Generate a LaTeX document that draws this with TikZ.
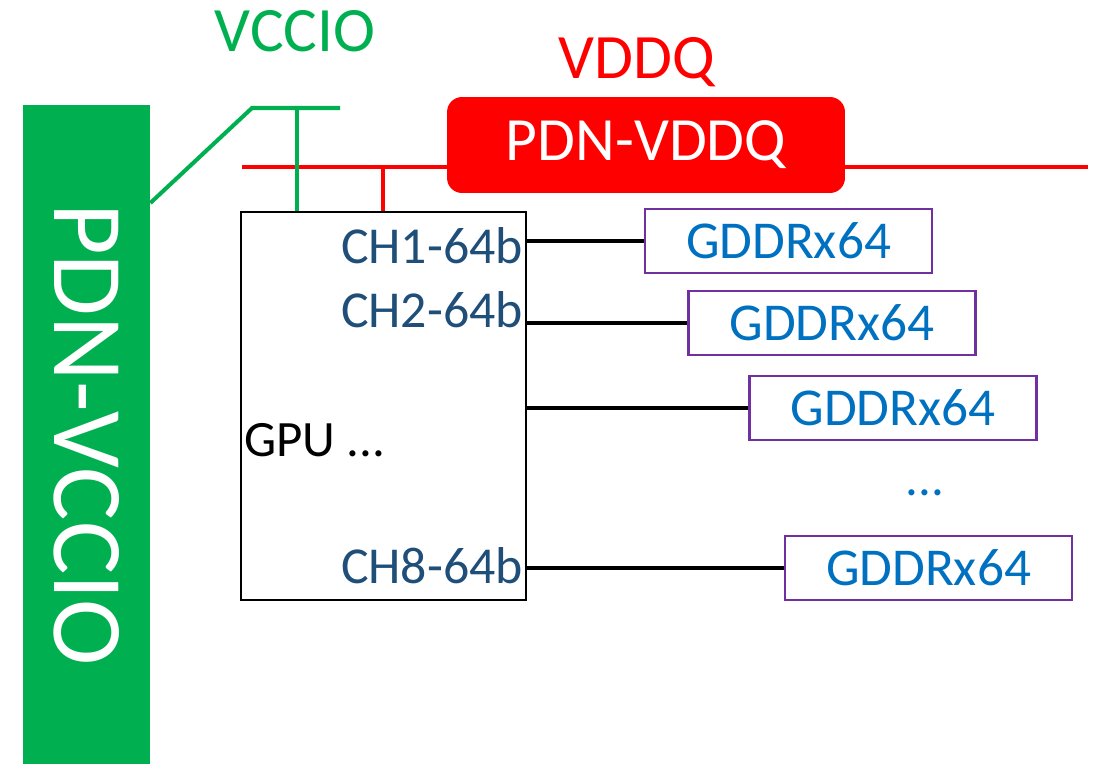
\documentclass[tikz,border=0pt]{standalone}
\usepackage{fontspec}
\setmainfont{Carlito}
\usetikzlibrary{positioning,calc}

\definecolor{vgreen}{HTML}{00B050}
\definecolor{vred}{HTML}{FF0000}
\definecolor{gpurple}{HTML}{7030A0}
\definecolor{gblue}{HTML}{0070C0}
\definecolor{chblue}{HTML}{1F4E79}

\begin{document}
\begin{tikzpicture}[
      x=0.02cm, y=-0.02cm,
      gddr/.style={draw=gpurple,line width=1.4pt,minimum width=5.74cm,minimum height=1.28cm,
        text=gblue,font=\fontsize{30.3}{33}\selectfont},
      chl/.style={anchor=base east,text=chblue,inner sep=1pt,font=\fontsize{29.5}{32}\selectfont},
      bus/.style={line width=2.8pt},
      gw/.style={draw=vgreen,line width=2.3pt},
      rw/.style={draw=vred,line width=2.3pt},
    ]
    \useasboundingbox (0,0) rectangle (1097,764);
    % power rails
    \node[fill=vgreen,minimum width=2.54cm,minimum height=13.18cm,inner sep=0pt] (vccio) at (86.5,434.5) {};
    \node[rotate=-90,text=white,font=\fontsize{57}{60}\selectfont] at (vccio.center) {PDN-VCCIO};
    \node[anchor=base,text=vgreen,font=\fontsize{36}{40}\selectfont] (lvccio) at (295,51) {VCCIO};
    \node[anchor=base,text=vred,font=\fontsize{36}{40}\selectfont] (lvddq) at (637,78) {VDDQ};
    \coordinate (rl) at (242,167);
    \coordinate (rr) at (1088,167);
    \draw[rw] (rl) -- (rr);
    \node[fill=vred,rounded corners=0.3cm,minimum width=7.96cm,minimum height=1.92cm,
      text=white,font=\fontsize{35}{38}\selectfont] (vddq) at (646,145) {PDN-VDDQ};
    % gpu
    \node[draw,line width=1.1pt,minimum width=5.7cm,minimum height=7.76cm] (gpu) at (383.5,406) {};
    \node[anchor=base west,inner sep=1pt,font=\fontsize{29}{32}\selectfont] (gpul) at (242,456) {GPU ...};
    \node[chl] (ch1) at (525,263) {CH1-64b};
    \node[chl] (ch2) at (525,327) {CH2-64b};
    \node[chl] (ch8) at (525,583) {CH8-64b};
    \coordinate (gk) at (252,108);
    \coordinate (ge) at (340,108);
    \coordinate (gt) at (297,108);
    \coordinate (rt) at (383,167);
    \draw[gw] (vccio.east |- 0,203) -- (gk) -- (ge);
    \draw[gw] (gt) -- (gt |- gpu.north);
    \draw[rw] (rt) -- (rt |- gpu.north);
    % memories
    \node[gddr] (g1) at (788.5,241) {GDDRx64};
    \node[gddr] (g2) at (832,323) {GDDRx64};
    \node[gddr] (g3) at (893,408) {GDDRx64};
    \node[gddr] (g4) at (928.5,568) {GDDRx64};
    \node[anchor=base,text=gblue,font=\fontsize{29}{32}\selectfont] (dots) at (925,495) {...};
    \foreach \g in {g1,g2,g3,g4}
      \draw[bus] (\g.west -| gpu.east) -- (\g.west);
  \end{tikzpicture}
\end{document}
